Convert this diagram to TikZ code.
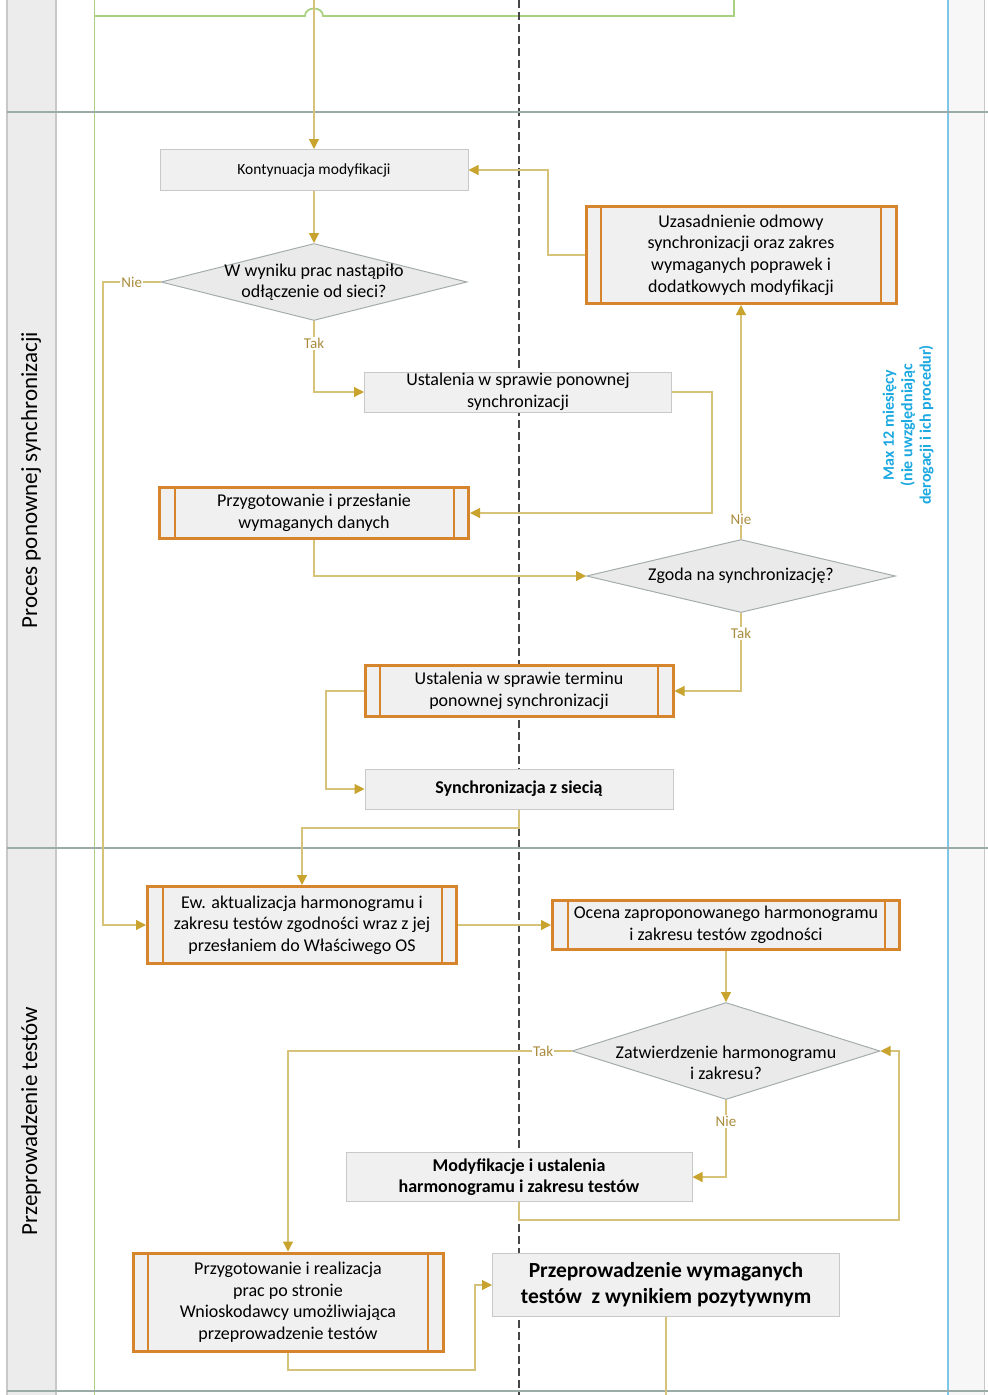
\documentclass[tikz,border=0pt]{standalone}
\usepackage{fontspec}
\setmainfont{Carlito}
\usetikzlibrary{positioning,shapes.geometric,arrows.meta}

\definecolor{goldline}{RGB}{214,194,120}
\definecolor{goldtip}{RGB}{200,163,45}
\definecolor{labelgold}{RGB}{170,140,62}
\definecolor{orangeline}{RGB}{214,133,45}
\definecolor{boxfill}{RGB}{240,240,240}
\definecolor{boxline}{RGB}{200,200,200}
\definecolor{diafill}{RGB}{234,234,234}
\definecolor{dialine}{RGB}{165,172,172}
\definecolor{laneline}{RGB}{155,172,168}
\definecolor{lanefill}{RGB}{236,236,236}
\definecolor{greenline}{RGB}{170,208,130}
\definecolor{blueline}{RGB}{125,200,232}
\definecolor{bluetext}{RGB}{28,168,224}

\newcommand{\txtsize}{\fontsize{18}{21.6}\selectfont}

\begin{document}
\begin{tikzpicture}[
    x=1pt, y=-1pt,
    task/.style={%
      draw=boxline,
      fill=boxfill,
      line width=1pt,
      align=center,
      inner xsep=2pt,
      inner ysep=0pt,
      font=\txtsize,
    },
    sub/.style={%
      task,
      draw=orangeline,
      line width=3pt,
      path picture={
        \draw [orangeline, line width=2pt]
          ([xshift=15pt]path picture bounding box.north west) --
          ([xshift=15pt]path picture bounding box.south west)
          ([xshift=-15pt]path picture bounding box.north east) --
          ([xshift=-15pt]path picture bounding box.south east);
      },
    },
    decision/.style={%
      diamond,
      draw=dialine,
      fill=diafill,
      line width=1pt,
      inner sep=0pt,
    },
    flow/.style={%
      draw=goldline,
      line width=1.2pt,
      -{Triangle[length=10pt,width=10pt,fill=goldtip,color=goldtip]},
    },
    lbl/.style={%
      fill=white,
      text=labelgold,
      inner sep=1pt,
      font=\fontsize{15}{18}\selectfont,
    },
    lane/.style={%
      rotate=90,
      font=\fontsize{23}{27}\selectfont,
    },
  ]
    \useasboundingbox (0,0) rectangle (988,1395);

    % lanes
    \fill [lanefill] (7,0) rectangle (56,1395);
    \fill [white!97!black] (948,0) rectangle (984,1395);
    \draw [boxline, line width=1.5pt] (7,0) -- (7,1395) (56,0) -- (56,1395);
    \draw [boxline, line width=1pt] (984,0) -- (984,1395);
    \draw [blueline, line width=1.2pt] (948,0) -- (948,1395);
    \draw [greenline, line width=1pt] (94,0) -- (94,1395);
    \draw [greenline, line width=1.8pt] (94,16) -- (305,16)
      .. controls (305,6) and (323,6) .. (323,16) -- (734,16) -- (734,0);
    \draw [black!72, line width=1.2pt, dash pattern=on 8pt off 4pt] (519,0) -- (519,1395);
    \foreach \ly in {112,848,1391}
      \draw [laneline, line width=2.5pt] (7,\ly) -- (988,\ly);

    \node [lane] (L1) at (31,480) {Proces ponownej synchronizacji};
    \node [lane] (L2) at (31,1121) {Przeprowadzenie testów};
    \node [rotate=90, align=center, text=bluetext, font=\bfseries\fontsize{16}{18.5}\selectfont]
      (max) at (908,425) {Max 12 miesięcy\\(nie uwzględniając\\derogacji i ich procedur)};

    % process steps
    \node [task, minimum width=308, minimum height=41,
      font=\fontsize{15.5}{19}\selectfont] (k) at (314,170) {Kontynuacja modyfikacji};
    \node [decision, minimum width=306, minimum height=77] (d1) at (314,282) {};
    \node [align=center, font=\txtsize] (d1t) at (d1) {W wyniku prac nastąpiło\\odłączenie od sieci?};
    \node [sub, minimum width=310, minimum height=97] (uz) at (741,255)
      {Uzasadnienie odmowy\\synchronizacji oraz zakres\\wymaganych poprawek i\\dodatkowych modyfikacji};
    \node [task, minimum width=307, minimum height=40] (u1) at (518,392)
      {Ustalenia w sprawie ponownej\\synchronizacji};
    \node [sub, minimum width=309, minimum height=51] (p1) at (314,513)
      {Przygotowanie i przesłanie\\wymaganych danych};
    \node [decision, minimum width=309, minimum height=73] (d2) at (741,576) {};
    \node [font=\txtsize] (d2t) at (d2) {Zgoda na synchronizację?};
    \node [sub, minimum width=308, minimum height=51] (t1) at (519,691)
      {Ustalenia w sprawie terminu\\ponownej synchronizacji};
    \node [task, minimum width=308, minimum height=40, font=\bfseries\txtsize] (s1) at (519,789)
      {Synchronizacja z siecią};
    \node [sub, minimum width=309, minimum height=77] (ew) at (302,925)
      {Ew. aktualizacja harmonogramu i\\zakresu testów zgodności wraz z jej\\przesłaniem do Właściwego OS};
    \node [sub, minimum width=347, minimum height=49] (oc) at (726,925)
      {Ocena zaproponowanego harmonogramu\\i zakresu testów zgodności};
    \node [decision, minimum width=308, minimum height=97] (d3) at (726,1051) {};
    \node [align=center, font=\txtsize] (d3t) at (726,1063) {Zatwierdzenie harmonogramu\\i zakresu?};
    \node [task, minimum width=346, minimum height=49, font=\bfseries\txtsize] (mo) at (519,1177)
      {Modyfikacje i ustalenia\\harmonogramu i zakresu testów};
    \node [sub, minimum width=310, minimum height=98] (pr) at (288,1302)
      {Przygotowanie i realizacja\\prac po stronie\\Wnioskodawcy umożliwiająca\\przeprowadzenie testów};
    \node [task, minimum width=347, minimum height=63, font=\bfseries\fontsize{21.5}{26}\selectfont]
      (pz) at (666,1285) {Przeprowadzenie wymaganych\\testów\ \ z wynikiem pozytywnym};

    % bends
    \coordinate (in) at (314,0);
    \coordinate (b0) at (103,282);
    \coordinate (b1) at (712,392);
    \coordinate (b2) at (548,255);
    \coordinate (b3) at (326,691);
    \coordinate (b4) at (519,828);
    \coordinate (b5) at (519,1220);
    \coordinate (b6) at (899,1220);
    \coordinate (b7) at (475,1370);
    \coordinate (out) at (666,1395);

    % connectors
    \draw [flow] (in) -- (k);
    \draw [flow] (k) -- (d1);
    \draw [flow] (d1.south) |- node [lbl, pos=0.16] {Tak} (u1.west);
    \draw [flow] (d1.west) -- node [lbl] {Nie} (b0) |- (ew.west);
    \draw [flow] (u1.east) -- (b1) |- (p1.east);
    \draw [flow] (p1.south) |- (d2.west);
    \draw [flow] (d2.north) -- node [lbl, pos=0.085] {Nie} (uz.south);
    \draw [flow] (uz.west) -- (b2) |- (k.east);
    \draw [flow] (d2.south) |- node [lbl, pos=0.13] {Tak} (t1.east);
    \draw [flow] (t1.west) -- (b3) |- (s1.west);
    \draw [flow] (s1.south) -- (b4) -| (ew.north);
    \draw [flow] (ew) -- (oc);
    \draw [flow] (oc) -- (d3);
    \draw [flow] (d3.west) -| node [lbl, pos=0.05] {Tak} (pr.north);
    \draw [flow] (d3.south) |- node [lbl, pos=0.14] {Nie} (mo.east);
    \draw [flow] (mo.south) -- (b5) -- (b6) |- (d3.east);
    \draw [flow] (pr.south) |- (b7) |- (pz.west);
    \draw [draw=goldline, line width=1.2pt] (pz.south) -- (out);
\end{tikzpicture}
\end{document}
